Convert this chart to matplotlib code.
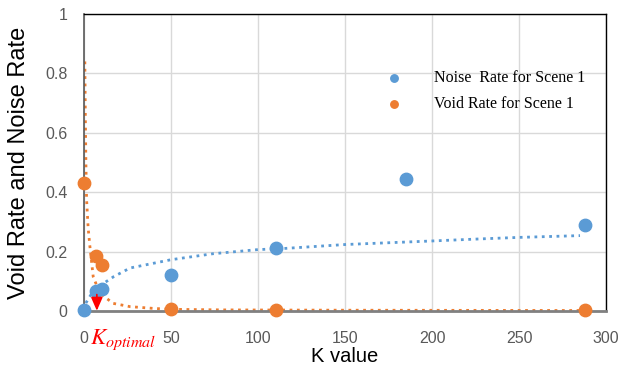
import matplotlib.pyplot as plt

k_noise = [0, 7, 10, 50, 110, 185, 288]
noise_rate = [0.005, 0.068, 0.076, 0.122, 0.213, 0.443, 0.29]
k_void = [0, 7, 10, 50, 110, 288]
void_rate = [0.432, 0.186, 0.155, 0.006, 0.003, 0.003]

# trendlines
noise_trend_k = [1, 2.3, 5, 9, 17, 26.4, 50, 74, 100, 113, 150, 200, 228, 250, 285]
noise_trend = [0.027, 0.04, 0.065, 0.085, 0.116, 0.145, 0.173, 0.193, 0.207, 0.21, 0.224, 0.236, 0.243, 0.248, 0.254]
void_trend_k = [0.4, 0.7, 1.0, 1.4, 2.3, 3.3, 5.2, 9, 16.7, 26.4, 40, 50, 80, 150, 285]
void_trend = [0.84, 0.65, 0.5, 0.376, 0.28, 0.218, 0.116, 0.06, 0.026, 0.015, 0.009, 0.006, 0.004, 0.003, 0.002]

k_opt = 7.3

blue = "#5b9bd5"
orange = "#ed7d31"

plt.rcParams["font.family"] = ["Liberation Sans", "DejaVu Sans"]
plt.rcParams["mathtext.fontset"] = "stix"
fig = plt.figure(figsize=(6.21, 3.66), dpi=100)
ax = fig.add_axes([0.1355, 0.150, 0.8405, 0.812])

ax.plot(noise_trend_k, noise_trend, ":", color=blue, lw=2, zorder=2)
ax.plot(void_trend_k, void_trend, ":", color=orange, lw=2, zorder=2)
ax.scatter(k_noise, noise_rate, s=80, color=blue, zorder=3, clip_on=False,
           label="Noise  Rate for Scene 1")
ax.scatter(k_void, void_rate, s=80, color=orange, zorder=3, clip_on=False,
           label="Void Rate for Scene 1")

ax.set_xlim(0, 300)
ax.set_ylim(0, 1)
ax.set_xticks(range(0, 301, 50))
ax.set_yticks([0, 0.2, 0.4, 0.6, 0.8, 1])
ax.set_yticklabels(["0", "0.2", "0.4", "0.6", "0.8", "1"])
ax.grid(True, color="#d9d9d9", lw=1)
ax.set_axisbelow(True)
ax.tick_params(length=0, labelsize=11.5, colors="#595959")
ax.tick_params(axis="x", pad=14)
ax.tick_params(axis="y", pad=12)
for s in ["top", "right"]:
    ax.spines[s].set_color("black")
    ax.spines[s].set_linewidth(1)
ax.spines["left"].set_color("#595959")
ax.spines["left"].set_linewidth(1.2)
ax.spines["bottom"].set_color("#808080")
ax.spines["bottom"].set_linewidth(2)

ax.set_xlabel("K value", fontsize=14.5, labelpad=1)
ax.set_ylabel("Void Rate and Noise Rate", fontsize=17)
ax.yaxis.set_label_coords(-0.103, 0.5)

ax.annotate("", xy=(k_opt, -0.008), xytext=(k_opt, 0.065),
            arrowprops=dict(arrowstyle="-|>,head_width=0.35,head_length=0.8",
                            color="red", lw=1.2), annotation_clip=False, zorder=4)
ax.text(k_opt - 3.8, -0.098, "$K_{optimal}$", color="red", fontsize=16.5,
        ha="left", va="center", clip_on=False)

leg = ax.legend(loc="upper left", bbox_to_anchor=(0.535, 0.86), frameon=False,
                prop={"family": "Liberation Serif", "size": 11.5},
                handletextpad=1.5, labelspacing=0.65, scatterpoints=1,
                markerscale=0.6)

plt.savefig("out.png", dpi=100)
